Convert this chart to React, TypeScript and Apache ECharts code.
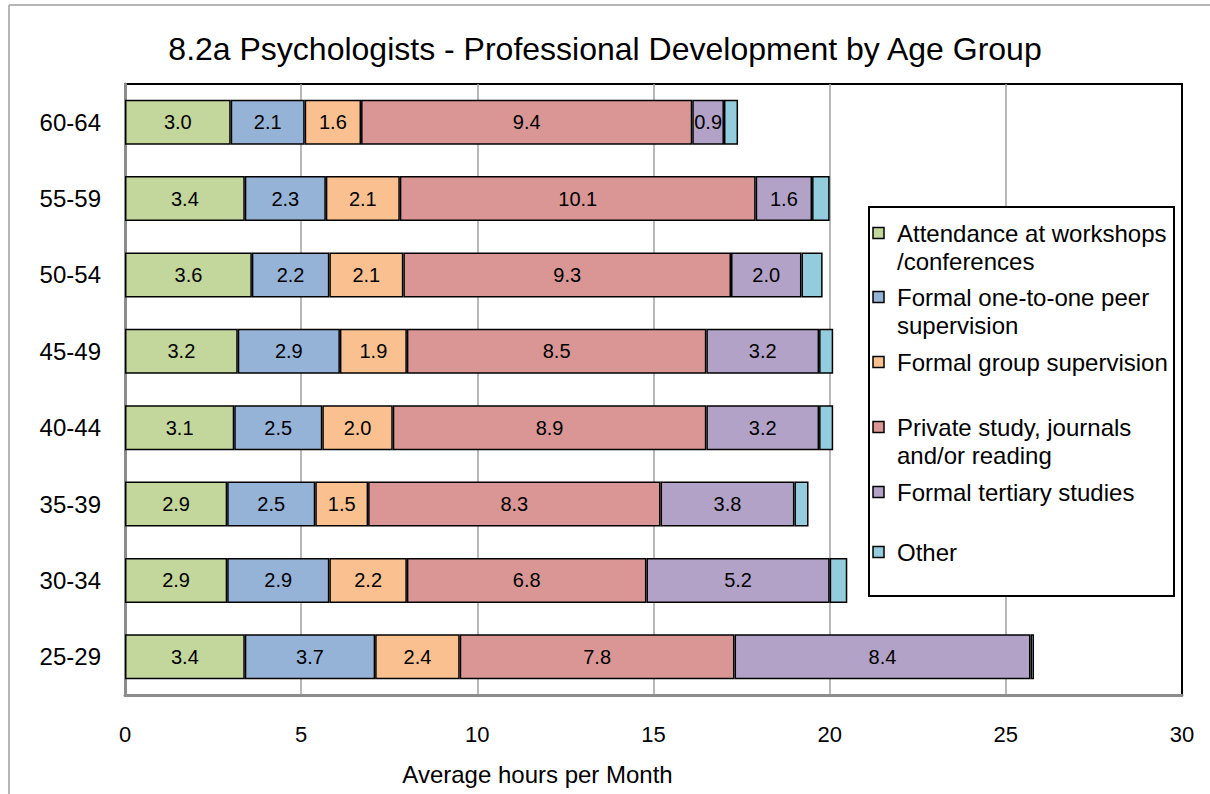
import React, { useEffect, useRef } from "react";
import * as echarts from "echarts";

const categories = ["60-64", "55-59", "50-54", "45-49", "40-44", "35-39", "30-34", "25-29"];
const seriesNames = [
  "Attendance at workshops /conferences",
  "Formal one-to-one peer supervision",
  "Formal group supervision",
  "Private study, journals and/or reading",
  "Formal tertiary studies",
  "Other",
];
const legendLines = [
  ["Attendance at workshops", "/conferences"],
  ["Formal one-to-one peer", "supervision"],
  ["Formal group supervision"],
  ["Private study, journals", "and/or reading"],
  ["Formal tertiary studies"],
  ["Other"],
];
const attendance = [3.0, 3.4, 3.6, 3.2, 3.1, 2.9, 2.9, 3.4];
const peerSupervision = [2.1, 2.3, 2.2, 2.9, 2.5, 2.5, 2.9, 3.7];
const groupSupervision = [1.6, 2.1, 2.1, 1.9, 2.0, 1.5, 2.2, 2.4];
const privateStudy = [9.4, 10.1, 9.3, 8.5, 8.9, 8.3, 6.8, 7.8];
const tertiary = [0.9, 1.6, 2.0, 3.2, 3.2, 3.8, 5.2, 8.4];
const other = [0.4, 0.5, 0.6, 0.4, 0.4, 0.4, 0.5, 0.1];
const xTicks = { min: 0, max: 30, interval: 5 };

const colors = ["#C3D69B", "#95B3D7", "#FAC090", "#D99694", "#B3A2C7", "#93CDDD"];
const FONT = "'Liberation Sans', Arial, sans-serif";

export default function App() {
  const ref = useRef<HTMLDivElement>(null);
  useEffect(() => {
    if (!ref.current) return;
    const chart = echarts.init(ref.current, null, { renderer: "svg" });
    const allData = [attendance, peerSupervision, groupSupervision, privateStudy, tertiary, other];

    const legendY = [233, 297, 362, 427, 492, 552];
    const legendGraphics: any[] = [
      {
        type: "rect",
        shape: { x: 869, y: 207, width: 305, height: 389 },
        style: { fill: "#fff", stroke: "#000", lineWidth: 2 },
        z: 10,
      },
    ];
    legendLines.forEach((lines, i) => {
      legendGraphics.push({
        type: "rect",
        shape: { x: 873, y: legendY[i] - 5.5, width: 11, height: 11 },
        style: { fill: colors[i], stroke: "#000", lineWidth: 1.5 },
        z: 11,
      });
      lines.forEach((t, j) => {
        legendGraphics.push({
          type: "text",
          x: 897,
          y: legendY[i] + j * 28,
          style: {
            text: t,
            font: `24px ${FONT}`,
            fill: "#000",
            verticalAlign: "middle",
            align: "left",
          },
          z: 11,
        });
      });
    });

    const option: any = {
      animation: false,
      textStyle: { fontFamily: FONT },
      title: {
        text: "8.2a Psychologists - Professional Development by Age Group",
        left: "center",
        top: 28,
        textStyle: { fontSize: 32, fontWeight: "normal", color: "#000", fontFamily: FONT },
      },
      grid: {
        left: 125,
        top: 84,
        right: 28,
        bottom: 99,
        show: true,
        borderColor: "#000",
        borderWidth: 2,
        backgroundColor: "transparent",
      },
      xAxis: {
        type: "value",
        min: xTicks.min,
        max: xTicks.max,
        interval: xTicks.interval,
        name: "Average hours per Month",
        nameLocation: "middle",
        nameGap: 67,
        nameTextStyle: { fontSize: 24, color: "#000", fontFamily: FONT, padding: [0, 232, 0, 0] },
        axisLine: { show: true, lineStyle: { color: "#8c8c8c", width: 3 } },
        axisTick: { show: false },
        axisLabel: { fontSize: 22, color: "#000", margin: 28, fontFamily: FONT },
        splitLine: { show: true, showMinLine: false, showMaxLine: false, lineStyle: { color: "#a0a0a0", width: 1.5 } },
      },
      yAxis: {
        type: "category",
        data: categories,
        inverse: true,
        axisLine: { show: true, lineStyle: { color: "#8c8c8c", width: 3 } },
        axisTick: { show: false },
        axisLabel: { fontSize: 24, color: "#000", margin: 24, fontFamily: FONT },
        splitLine: { show: false },
      },
      series: seriesNames.map((name, i) => ({
        name,
        type: "bar",
        stack: "total",
        barWidth: 45,
        data: allData[i],
        itemStyle: { color: colors[i], borderColor: "#000", borderWidth: 1.5 },
        label: {
          show: i < 5,
          position: "inside",
          color: "#000",
          fontSize: 20,
          fontFamily: FONT,
          formatter: (p: any) => Number(p.value).toFixed(1),
        },
      })),
      graphic: [
        {
          type: "line",
          shape: { x1: 9, y1: 5, x2: 1210, y2: 5 },
          style: { stroke: "#b5b5b5", lineWidth: 2 },
          z: -10,
          silent: true,
        },
        {
          type: "line",
          shape: { x1: 9, y1: 5, x2: 9, y2: 794 },
          style: { stroke: "#b5b5b5", lineWidth: 2 },
          z: -10,
          silent: true,
        },
        ...legendGraphics,
      ],
    };
    chart.setOption(option);
    return () => chart.dispose();
  }, []);
  return (
    <div
      ref={ref}
      style={{ position: "absolute", left: 0, top: 0, width: 1210, height: 794, background: "#fff" }}
    />
  );
}
